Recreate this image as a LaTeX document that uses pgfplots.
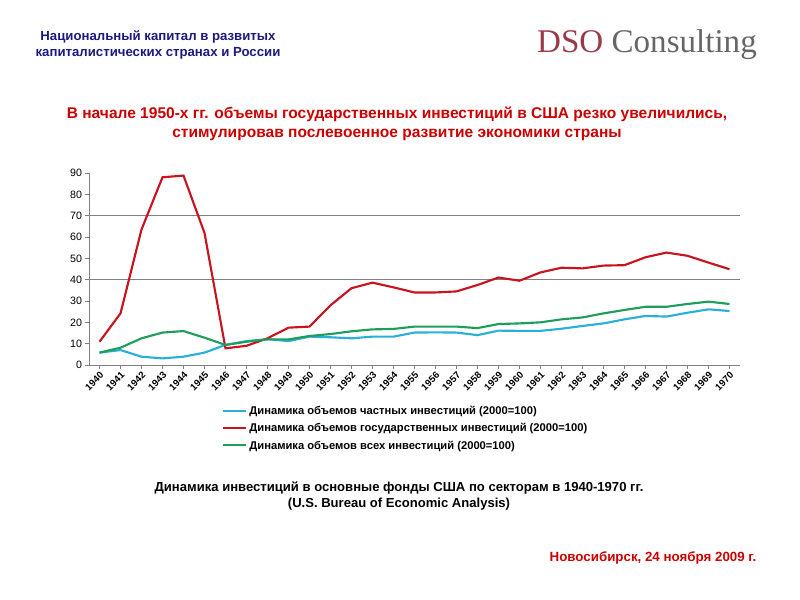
\documentclass[border=0pt]{standalone}
\usepackage{pgfplots}
\pgfplotsset{compat=1.18}
\usepackage{fontspec}
\setmainfont{Liberation Sans}
\newfontfamily\seriffont{Liberation Serif}
\definecolor{cline}{HTML}{2AB0D8}
\definecolor{rline}{HTML}{C8141E}
\definecolor{gline}{HTML}{1E9E5A}
\definecolor{navy}{HTML}{1A1A80}
\definecolor{titlered}{HTML}{CC0000}
\definecolor{dsored}{HTML}{9B3A48}
\definecolor{dsogray}{HTML}{666666}
\definecolor{axgray}{HTML}{808080}
\pgfplotstableread{
year priv gov all
1940 5.8 10.9 5.8
1941 7.0 24.2 8.1
1942 3.9 63.5 12.5
1943 3.1 88.0 15.2
1944 3.9 88.8 15.9
1945 5.8 61.9 12.8
1946 9.4 7.8 9.4
1947 11.2 9.0 10.9
1948 12.1 12.5 12.0
1949 11.2 17.5 12.0
1950 13.3 18.0 13.6
1951 13.0 28.0 14.5
1952 12.5 36.0 15.8
1953 13.3 38.6 16.7
1954 13.3 36.4 16.9
1955 15.2 34.0 18.0
1956 15.3 34.0 18.0
1957 15.2 34.5 18.0
1958 14.0 37.5 17.3
1959 16.1 41.0 19.2
1960 16.0 39.5 19.5
1961 16.0 43.4 20.0
1962 17.0 45.6 21.4
1963 18.3 45.3 22.3
1964 19.5 46.6 24.2
1965 21.4 46.8 25.8
1966 23.0 50.5 27.3
1967 22.7 52.7 27.3
1968 24.5 51.2 28.6
1969 26.1 48.0 29.7
1970 25.3 44.9 28.6
}\datatable
\begin{document}
\begin{tikzpicture}
\begin{scope}[x=0.75pt,y=0.75pt]
\path[use as bounding box] (0,0) rectangle (800,600);
\node[font=\fontsize{9.9}{12}\selectfont\bfseries, text=navy, align=center] at (158,555) {Национальный капитал в развитых\\капиталистических странах и России};
\node[font=\seriffont\fontsize{24.8}{27}\selectfont] at (647,555) {\textcolor{dsored}{DSO} \textcolor{dsogray}{Consulting}};
\node[font=\fontsize{11.65}{13.8}\selectfont\bfseries, text=titlered, align=center] at (397,476) {В начале 1950-х гг. объемы государственных инвестиций в США резко увеличились,\\стимулировав послевоенное развитие экономики страны};
\node[font=\fontsize{9.8}{11.5}\selectfont\bfseries, align=center] at (399,104) {Динамика инвестиций в основные фонды США по секторам в 1940-1970 гг.\\(U.S. Bureau of Economic Analysis)};
\node[font=\fontsize{10}{11}\selectfont\bfseries, text=titlered] at (653,42) {Новосибирск, 24 ноября 2009 г.};
\end{scope}
\begin{axis}[
  at={(66.75pt,176.25pt)}, anchor=south west,
  scale only axis, width=488.25pt, height=144pt,
  xmin=1939.5, xmax=1970.5, ymin=0, ymax=90,
  axis lines=left, axis line style={-, axgray, line width=0.6pt},
  xtick={1940,...,1970}, ytick={0,10,...,90},
  tick align=outside, major tick length=3pt,
  tick style={axgray, line width=0.5pt},
  x tick label style={rotate=45, anchor=north east, inner sep=1pt, font=\fontsize{7.2}{8}\selectfont\bfseries},
  y tick label style={font=\fontsize{8}{9}\selectfont, inner sep=2pt},
  xticklabel={\pgfmathprintnumber[1000 sep={}]{\tick}},
  /pgf/number format/assume math mode=true,
  extra y ticks={40,70}, extra y tick labels={},
  extra y tick style={grid=major, major grid style={axgray, line width=0.6pt}, major tick length=0pt},
  clip=false,
  legend style={at={(0.204,-0.2)}, anchor=north west, draw=none, fill=none,
    font=\fontsize{8.4}{9}\selectfont\bfseries, row sep=1.2pt, inner sep=0pt},
  legend cell align=left,
  legend image code/.code={\draw[#1, line width=1.5pt] (0,0.4pt) -- (17pt,0.4pt);},
]
\addplot[cline, line width=1.6pt] table[x=year, y=priv] {\datatable};
\addlegendentry{Динамика объемов частных инвестиций (2000=100)}
\addplot[rline, line width=1.6pt] table[x=year, y=gov] {\datatable};
\addlegendentry{Динамика объемов государственных инвестиций (2000=100)}
\addplot[gline, line width=1.6pt] table[x=year, y=all] {\datatable};
\addlegendentry{Динамика объемов всех инвестиций (2000=100)}
\end{axis}
\end{tikzpicture}
\end{document}
